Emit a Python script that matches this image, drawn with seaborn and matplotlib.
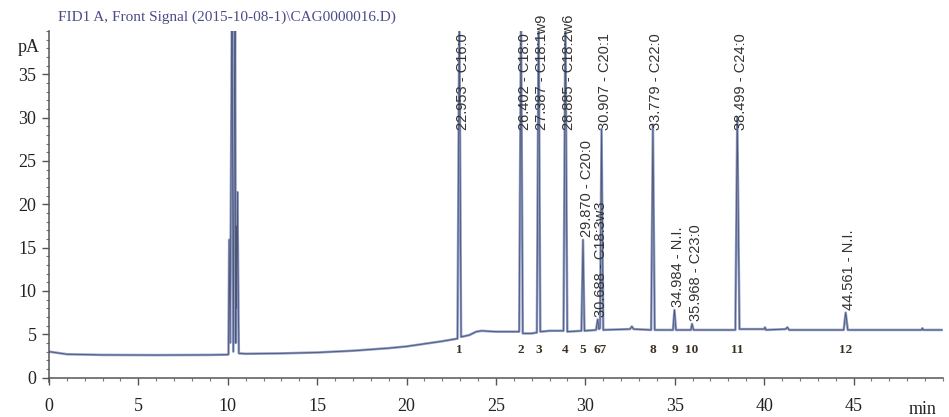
import numpy as np
import pandas as pd
import matplotlib
matplotlib.use("Agg")
import matplotlib.pyplot as plt
import seaborn as sns
from matplotlib.ticker import MultipleLocator

# =========================
# Data
# =========================
time_min = [0.0, 0.5, 1.0, 3.0, 6.0, 9.0, 10.0,
            10.04, 10.08, 10.13, 10.24, 10.31, 10.41, 10.45, 10.48, 10.5, 10.54, 10.62,
            11.0, 13.0, 15.0, 17.0, 19.0, 20.0, 21.0, 22.0, 22.85,
            22.953, 23.05, 23.5, 23.9, 24.2, 25.0, 26.3,
            26.402, 26.5, 27.0, 27.29,
            27.387, 27.48, 28.0, 28.78,
            28.885, 28.99, 29.78,
            29.870, 29.95, 30.60,
            30.688, 30.76, 30.82,
            30.907, 31.0, 32.5, 32.6, 32.7, 33.68,
            33.779, 33.88, 34.9,
            34.984, 35.07, 35.9,
            35.968, 36.05, 38.39,
            38.499, 38.62, 40.0, 40.05, 40.1, 41.2, 41.3, 41.4, 44.45,
            44.561, 44.68, 48.8, 48.85, 48.9, 49.95]
signal_pa = [3.0, 2.85, 2.7, 2.62, 2.6, 2.62, 2.65,
             2.7, 15.9, 4.0, 45.0, 3.0, 45.0, 4.0, 17.5, 8.0, 21.4, 2.8,
             2.75, 2.8, 2.9, 3.1, 3.4, 3.6, 3.9, 4.2, 4.5,
             42.0, 4.7, 4.9, 5.3, 5.4, 5.3, 5.3,
             42.0, 5.1, 5.1, 5.2,
             42.0, 5.3, 5.4, 5.4,
             42.0, 5.3, 5.4,
             15.9, 5.4, 5.5,
             6.7, 5.6, 5.7,
             28.7, 5.5, 5.6, 5.9, 5.6, 5.5,
             29.2, 5.5, 5.5,
             7.8, 5.5, 5.5,
             6.2, 5.5, 5.5,
             30.0, 5.6, 5.6, 5.8, 5.5, 5.6, 5.8, 5.5, 5.5,
             7.5, 5.5, 5.5, 5.7, 5.5, 5.5]

peak_rt = [22.953, 26.402, 27.387, 28.885, 29.870, 30.688, 30.907,
           33.779, 34.984, 35.968, 38.499, 44.561]
peak_height = [42.0, 42.0, 42.0, 42.0, 15.9, 6.7, 28.7,
               29.2, 7.8, 6.2, 30.0, 7.5]
peak_name = ["C16:0", "C18:0", "C18:1w9", "C18:2w6", "C20:0", "C18:3w3", "C20:1",
             "C22:0", "N.I.", "C23:0", "C24:0", "N.I."]

# peak numbers under the baseline (6 and 7 printed together)
number_text = ["1", "2", "3", "4", "5", "67", "8", "9", "10", "11", "12"]
number_rt = [22.953, 26.402, 27.387, 28.885, 29.870, 30.80,
             33.779, 34.984, 35.968, 38.499, 44.561]

x_ticks = [0, 5, 10, 15, 20, 25, 30, 35, 40, 45]
y_ticks = [0, 5, 10, 15, 20, 25, 30, 35]

trace = pd.DataFrame({"time": time_min, "signal": signal_pa})

# =========================
# Figure
# =========================
sns.set_theme(style="ticks")
plt.rcParams["font.family"] = ["Liberation Serif", "DejaVu Serif"]

fig = plt.figure(figsize=(9.49, 4.17), dpi=100)
ax = fig.add_axes([0.0516, 0.084, 0.942, 0.842])

# scanned trace: pale blue outline with a darker core
sns.lineplot(data=trace, x="time", y="signal", ax=ax, color="#8e9cc6",
             linewidth=1.8, estimator=None, sort=False)
sns.lineplot(data=trace, x="time", y="signal", ax=ax, color="#4d5676",
             linewidth=0.6, estimator=None, sort=False)

ax.set_xlim(0, 50)
ax.set_ylim(-0.5, 40)
ax.set_xlabel("")
ax.set_ylabel("")

ax.spines["top"].set_visible(False)
ax.spines["right"].set_visible(False)
ax.spines["bottom"].set_position(("data", 0))
for s in ["left", "bottom"]:
    ax.spines[s].set_color("#555555")
    ax.spines[s].set_linewidth(1.1)

ax.set_xticks(x_ticks)
ax.set_yticks(y_ticks)
ax.xaxis.set_minor_locator(MultipleLocator(1))
ax.yaxis.set_minor_locator(MultipleLocator(1))
ax.tick_params(axis="both", which="major", length=5, width=1, color="#555555",
               labelsize=13, labelcolor="#222222")
ax.tick_params(axis="both", which="minor", length=2.5, width=0.8, color="#777777")
ax.tick_params(axis="x", which="major", pad=10)
ax.tick_params(axis="y", which="major", pad=4)

# peak annotations
for rt, h, name in zip(peak_rt, peak_height, peak_name):
    ax.text(rt + 0.2, min(h + 0.3, 28.6), f"{rt:.3f} - {name}", rotation=90,
            ha="center", va="bottom", fontsize=10.5, color="#333333",
            family=["Liberation Sans", "DejaVu Sans"])

for rt, t in zip(number_rt, number_text):
    ax.text(rt, 3.2, t, ha="center", va="center", fontsize=9.5,
            fontweight="bold", color="#3b3020")

fig.text(0.019, 0.885, "pA", fontsize=13, color="#222222", va="center")
fig.text(0.958, 0.017, "min", fontsize=13, color="#222222", va="center")
fig.text(0.061, 0.958, "FID1 A, Front Signal (2015-10-08-1)\\CAG0000016.D)",
         fontsize=11, color="#4b4b88", va="center")

plt.savefig("out.png", dpi=100)
